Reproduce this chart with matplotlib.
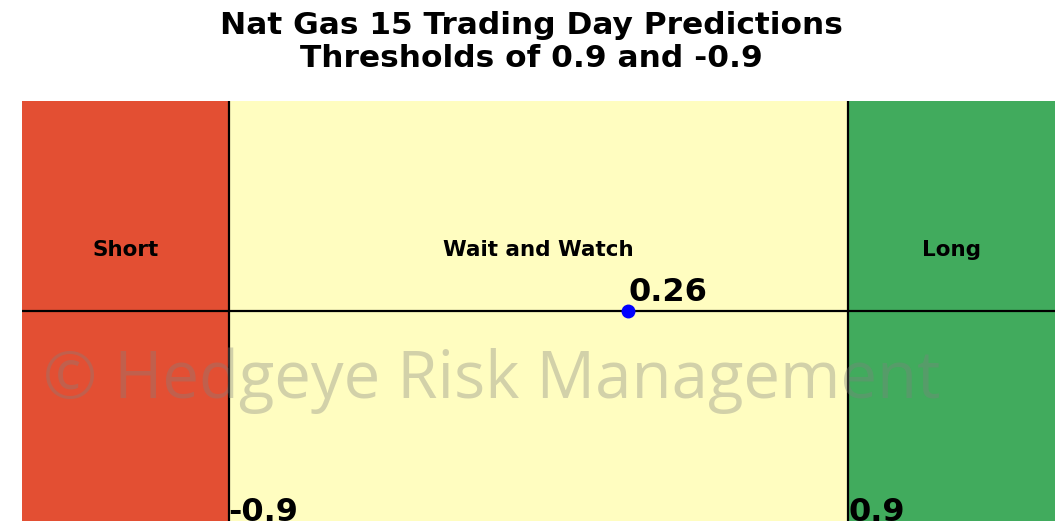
import matplotlib
matplotlib.use("Agg")
import matplotlib.pyplot as plt

# data
thresholds = [-0.9, 0.9]
prediction = 0.26
zone_labels = ["Short", "Wait and Watch", "Long"]
zone_colors = ["#e34f33", "#fffdc0", "#41ab5d"]
x_limits = [-1.5, 1.5]

fig = plt.figure(figsize=(10.62, 5.31), dpi=100)
ax = fig.add_axes([0.0207, 0.0188, 0.9727, 0.7912])
ax.set_xlim(*x_limits)
ax.set_ylim(-1, 1)
ax.axis("off")

edges = [x_limits[0]] + thresholds + [x_limits[1]]
for i in range(3):
    ax.axvspan(edges[i], edges[i + 1], color=zone_colors[i], lw=0, zorder=0)
    ax.text((edges[i] + edges[i + 1]) / 2, 0.29, zone_labels[i],
            ha="center", va="center", fontsize=15.5, fontweight="bold")

for t in thresholds:
    ax.axvline(t, color="black", lw=1.6, zorder=2)
    ax.text(t, -1.0, str(t), ha="left", va="baseline",
            fontsize=23, fontweight="bold", zorder=4)

ax.axhline(0, color="black", lw=1.6, zorder=2)
ax.plot([prediction], [0], "o", color="blue", markersize=9, zorder=5)
ax.text(prediction, 0.015, f"{prediction:.2f}", ha="left", va="bottom",
        fontsize=23, fontweight="bold", zorder=5)

ax.text(-1.44, -0.33, "\u00a9 Hedgeye Risk Management", ha="left", va="center",
        fontsize=47, family=["Open Sans", "DejaVu Sans"], color="grey",
        alpha=0.35, zorder=6)

fig.suptitle("Nat Gas 15 Trading Day Predictions\nThresholds of 0.9 and -0.9",
             fontsize=22.5, fontweight="bold", y=0.98)

fig.savefig("out.png", dpi=100)
